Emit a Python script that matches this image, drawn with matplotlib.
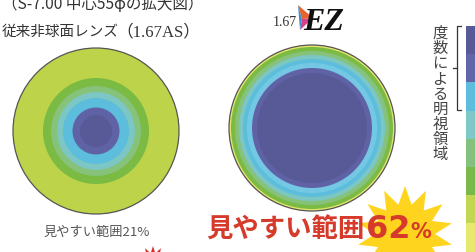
import numpy as np
import matplotlib.pyplot as plt
from matplotlib.patches import Circle, Polygon, Rectangle

plt.rcParams['font.family'] = ['Noto Sans CJK JP', 'DejaVu Sans']

# ring radii (px) and colours, outermost first
left_radii = [83, 53, 45, 39, 33, 23.5, 16]
left_colors = ['#bdd44a', '#7bbb44', '#86c27a', '#7cc6c4', '#5cbedc', '#5f63a6', '#585a98']
right_radii = [83, 81, 77, 73, 69, 65, 60, 55]
right_colors = ['#e2e46a', '#7bbb44', '#86c27a', '#7cc6c4', '#5cbedc', '#74c8e4', '#5f63a6', '#585a98']

# colour key, top to bottom
key_colors = ['#585a98', '#6266a8', '#5cbedc', '#7ec8c6', '#84c07e', '#7ab84a', '#c2d654', '#e8e86e']

left_label = '見やすい範囲21%'
right_label = '見やすい範囲'
right_pct = '62'
key_label = '度数による明視領域'

fig = plt.figure(figsize=(4.75, 2.52), dpi=100)
ax = fig.add_axes([0, 0, 1, 1])
ax.set_xlim(0, 475)
ax.set_ylim(252, 0)
ax.axis('off')


def draw_rings(cx, cy, radii, colors):
    for r, c in zip(radii, colors):
        ax.add_patch(Circle((cx, cy), r, facecolor=c, edgecolor='none'))
    ax.add_patch(Circle((cx, cy), radii[0], facecolor='none', edgecolor='#555555', lw=0.9))


def star(cx, cy, r_out, r_in, n, color, z=1):
    ang = np.linspace(0, 2 * np.pi, 2 * n, endpoint=False) - np.pi / 2
    rr = np.where(np.arange(2 * n) % 2 == 0, r_out, r_in)
    pts = np.c_[cx + rr * np.cos(ang), cy + rr * np.sin(ang)]
    ax.add_patch(Polygon(pts, closed=True, facecolor=color, edgecolor='none', zorder=z))


draw_rings(96, 131, left_radii, left_colors)
draw_rings(312, 128, right_radii, right_colors)

# header texts
ax.text(2, 4, '（S-7.00 中心55φの拡大図）', fontsize=11.2, color='#333333', va='center', ha='left')
ax.text(2, 32, '従来非球面レンズ', fontsize=10.5, color='#333333', va='center', ha='left')
ax.text(116, 32, '（1.67AS）', fontsize=12, color='#333333', va='center', ha='left',
        family=['Liberation Serif', 'Noto Sans CJK JP'])

# lens logo
ax.text(297, 22, '1.67', fontsize=10, color='#333333', va='center', ha='right', family='Liberation Serif')
ax.add_patch(Polygon([[298, 5], [313, 18], [302, 19]], facecolor='#e8622c', edgecolor='none'))
ax.add_patch(Polygon([[302, 19], [313, 18], [300, 30]], facecolor='#d9408a', edgecolor='none'))
ax.add_patch(Polygon([[298, 5], [302, 19], [300, 30]], facecolor='#3a8fcf', edgecolor='none'))
ax.text(324, 22, 'EZ', fontsize=23, color='#111111', va='center', ha='center',
        family='Liberation Serif', style='italic', weight='bold')

# bottom labels
ax.text(97, 232, left_label, fontsize=9.5, color='#555555', va='center', ha='center')
star(405, 234, 48, 30, 14, '#ffd41e', z=1)
star(153, 262, 16, 9, 12, '#d6302a', z=1)
ax.text(206, 230, right_label, fontsize=19, color='#d63a2a', weight='bold', va='center', ha='left', zorder=3)
ax.text(366, 229, right_pct, fontsize=23, color='#d63a2a', weight='bold', va='center', ha='left', zorder=3,
        family='DejaVu Sans')
ax.text(410, 232, '%', fontsize=15, color='#d63a2a', weight='bold', va='center', ha='left', zorder=3,
        family='DejaVu Sans')

# colour key
y0, h = 26, 28.2
for i, c in enumerate(key_colors):
    ax.add_patch(Rectangle((466, y0 + i * h), 12, h, facecolor=c, edgecolor='none'))

# bracket
ax.plot([461, 457, 457, 461], [26, 26, 110, 110], color='#333333', lw=0.9)
ax.plot([457, 453], [68, 68], color='#333333', lw=0.9)
ax.text(440, 25, '\n'.join(key_label), fontsize=11, color='#444444', va='top', ha='center',
        linespacing=0.86)

fig.savefig('out.png', dpi=100)
